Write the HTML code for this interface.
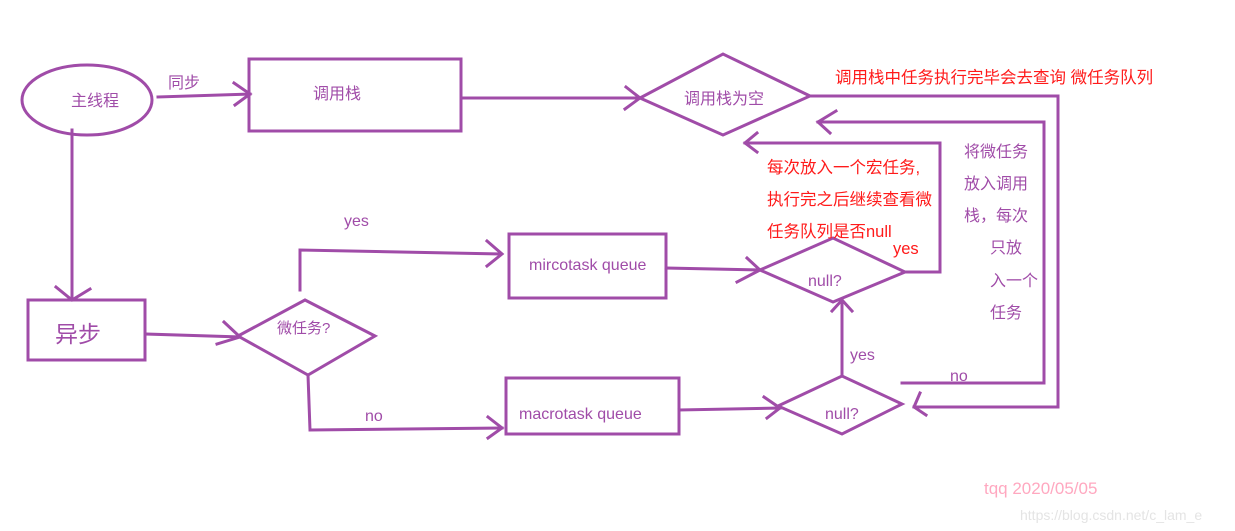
<!DOCTYPE html>
<html><head><meta charset="utf-8"><style>
html,body{margin:0;padding:0;background:#fff;}
svg{display:block;}
text{font-family:"Liberation Sans","Noto Sans CJK SC",sans-serif;}
</style></head><body>
<svg width="1235" height="531" viewBox="0 0 1235 531" xmlns="http://www.w3.org/2000/svg">
<g fill="none" stroke="#a04ca8" stroke-width="3" stroke-linecap="square">
<ellipse cx="87" cy="100" rx="65" ry="35"/>
<rect x="249" y="59" width="212" height="72"/>
<rect x="28" y="300" width="117" height="60"/>
<rect x="509" y="234" width="157" height="64"/>
<rect x="506" y="378" width="173" height="56"/>
<polygon points="640,98 723,54 810,96 723,135"/>
<polygon points="238,336 305,300 375,336 308,375"/>
<polygon points="760,270 833,238 905,272 833,302"/>
<polygon points="778,406 842,376 902,404 842,434"/>
<!-- connectors -->
<polyline points="158,97 250,94"/><polyline points="234,83 250,94 235,105"/>
<polyline points="463,98 640,98"/><polyline points="626,87 640,98 625,109"/>
<polyline points="72,130 72,300"/><polyline points="56,287 72,300 90,289"/>
<polyline points="146,334 240,337"/><polyline points="224,322 240,337 217,344"/>
<polyline points="300,290 300,250 500,254"/><polyline points="487,241 502,254 487,266"/>
<polyline points="308,375 310,430 502,428"/><polyline points="488,417 502,428 488,438"/>
<polyline points="666,268 760,270"/><polyline points="747,258 760,270 737,282"/>
<polyline points="679,410 780,408"/><polyline points="764,397 780,408 767,418"/>
<polyline points="842,376 842,300"/><polyline points="832,311 842,300 852,311"/>
<polyline points="905,272 940,272 940,143 745,143"/><polyline points="757,133 745,143 757,152"/>
<polyline points="902,383 1044,383 1044,122 818,122"/><polyline points="836,111 818,122 830,133"/>
<polyline points="810,96 1058,96 1058,407 914,407"/><polyline points="920,393 914,407 926,415"/>
</g>
<g fill="#a04ca8" font-size="16">
<text x="71" y="106">主线程</text>
<text x="168" y="88">同步</text>
<text x="313" y="99">调用栈</text>
<text x="684" y="104">调用栈为空</text>
<text x="55" y="342" font-size="23">异步</text>
<text x="277" y="333" font-size="15">微任务?</text>
<text x="344" y="226">yes</text>
<text x="365" y="421">no</text>
<text x="529" y="270">mircotask queue</text>
<text x="519" y="419">macrotask queue</text>
<text x="808" y="286">null?</text>
<text x="825" y="419">null?</text>
<text x="850" y="360">yes</text>
<text x="950" y="381">no</text>
<text x="964" y="157">将微任务</text>
<text x="964" y="189">放入调用</text>
<text x="964" y="221">栈，每次</text>
<text x="990" y="253">只放</text>
<text x="990" y="286">入一个</text>
<text x="990" y="318">任务</text>
</g>
<g fill="#ff1a1a" font-size="16.5">
<text x="835" y="83">调用栈中任务执行完毕会去查询 微任务队列</text>
<text x="767" y="173">每次放入一个宏任务,</text>
<text x="767" y="205">执行完之后继续查看微</text>
<text x="767" y="237">任务队列是否null</text>
<text x="893" y="254">yes</text>
</g>
<text x="984" y="494" fill="#ffa8c0" font-size="17">tqq 2020/05/05</text>
<text x="1020" y="520" fill="#e4e4e4" font-size="14">https://blog.csdn.net/c_lam_e</text>
</svg>
</body></html>
